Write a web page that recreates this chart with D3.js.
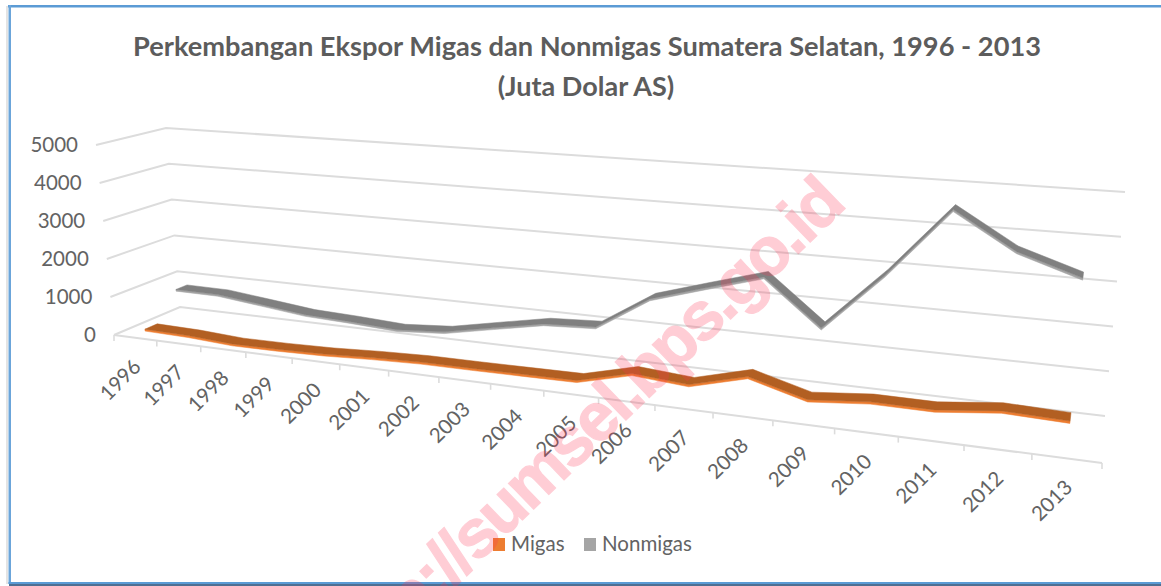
<!DOCTYPE html>
<html><head><meta charset="utf-8">
<script src="https://cdnjs.cloudflare.com/ajax/libs/d3/7.8.5/d3.min.js"></script>
<style>html,body{margin:0;padding:0;background:#fff;overflow:hidden}text{font-family:Lato,"Open Sans",sans-serif}</style>
</head><body><svg id="c" width="1161" height="586"></svg>
<script>
const years=["1996","1997","1998","1999","2000","2001","2002","2003","2004","2005","2006","2007","2008","2009","2010","2011","2012","2013"];
const migas=[110,85,15,25,55,117,160,165,177,191,516,419,767,408,532,528,680,640];
const nonmigas=[800,790,658,522,475,408,497,741,980,1047,1869,2269,2657,1598,2963,4568,3740,3283];
const valueTicks=[0,1000,2000,3000,4000,5000];
const titleLines=["Perkembangan Ekspor Migas dan Nonmigas Sumatera Selatan, 1996 - 2013","(Juta Dolar AS)"];

const svg=d3.select("#c");
// projection of the pseudo-3D box
const K=0.77;
const edge=d3.scaleLinear().domain([0,years.length]).range([0,1]);
const persp=i=>{const t=edge(i);return t*K/(1-(1-K)*t);};
const fx=d3.scaleLinear().domain([0,1]).range([114,1102]);
const fy=d3.scaleLinear().domain([0,1]).range([335,463]);
const bx=d3.scaleLinear().domain([0,1]).range([180,1105]);
const by=d3.scaleLinear().domain([0,1]).range([307,416]);
const fux=d3.scaleLinear().domain([0,1]).range([-18,22]);
const fuy=d3.scaleLinear().domain([0,1]).range([190,240]);
const bux=d3.scaleLinear().domain([0,1]).range([-14,20]);
const buy=d3.scaleLinear().domain([0,1]).range([179,224]);
const val=d3.scaleLinear().domain([0,5000]).range([0,1]);
function P(u,d,v){
  const m=(a,b)=>a+(b-a)*d;
  const h=val(v);
  return [m(fx(u),bx(u))+h*m(fux(u),bux(u)), m(fy(u),by(u))-h*m(fuy(u),buy(u))];
}
const line=d3.line();
const grid="#dcdcdc";
const g=svg.append("g");
// wall gridlines
valueTicks.forEach(v=>{
  g.append("path").attr("d",line([P(0,0,v),P(0,1,v),P(1,1,v)]))
   .attr("fill","none").attr("stroke",grid).attr("stroke-width",2);
});
// front axis + ticks
g.append("path").attr("d",line([P(0,0,0),P(1,0,0)])).attr("fill","none").attr("stroke",grid).attr("stroke-width",2);
d3.range(years.length+1).forEach(i=>{
  const p=P(persp(i),0,0);
  g.append("path").attr("d",line([p,[p[0],p[1]+6]])).attr("stroke",grid).attr("stroke-width",1.6);
});
// ribbons
function ribbon(vals,d,top,lip,dw,lipV){
  const us=vals.map((_,i)=>persp(i+0.5));
  const back=vals.map((v,i)=>P(us[i],d+dw,v));
  const front=vals.map((v,i)=>P(us[i],d-dw,v));
  const low=vals.map((v,i)=>P(us[i],d-dw,v-lipV));
  const end=[P(us[us.length-1],d+dw,vals[vals.length-1]-lipV)];
  svg.append("path").attr("d",line(front.concat(low.slice().reverse()))+"Z").attr("fill",lip).attr("stroke",lip).attr("stroke-width",.5);
  svg.append("path").attr("d",line(back.concat(front.slice().reverse()))+"Z").attr("fill",top).attr("stroke",top).attr("stroke-width",.5);
  svg.append("path").attr("d",line([back[back.length-1],front[front.length-1],low[low.length-1],end[0]])+"Z").attr("fill",top);
}
ribbon(nonmigas,0.75,"#808080","#a5a5a5",0.085,45);
ribbon(migas,0.25,"#b25f22","#ed7d31",0.095,50);
// y labels
valueTicks.forEach(v=>{
  const p=P(0,0,v);
  svg.append("text").attr("x",p[0]-18).attr("y",p[1]+7).attr("text-anchor","end")
    .attr("font-size",20.5).attr("fill","#636363").text(v);
});
// x labels
years.forEach((y,i)=>{
  const p=P(persp(i+0.5),0,0);
  svg.append("text").attr("transform",`translate(${p[0]-15},${p[1]+42}) rotate(-45)`)
    .attr("text-anchor","middle").attr("dy","0.35em").attr("font-size",20.5).attr("fill","#636363").text(y);
});
// title
svg.append("text").attr("x",587).attr("y",56).attr("text-anchor","middle").attr("font-size",27).attr("font-weight",700).attr("fill","#5c5c5c").attr("textLength",908).attr("lengthAdjust","spacingAndGlyphs").text(titleLines[0]);
svg.append("text").attr("x",586).attr("y",96).attr("text-anchor","middle").attr("font-size",27).attr("font-weight",700).attr("fill","#5c5c5c").text(titleLines[1]);
// legend
[["Migas","#ed7d31",493,511],["Nonmigas","#a5a5a5",584,602]].forEach(l=>{
  svg.append("rect").attr("x",l[2]).attr("y",538).attr("width",12).attr("height",13).attr("fill",l[1]);
  svg.append("text").attr("x",l[3]).attr("y",551).attr("font-size",20.5).attr("fill","#636363").text(l[0]);
});
// frame: soft shadow, then top/left/bottom blue edges (no right edge)
svg.append("rect").attr("x",6).attr("y",6).attr("width",2).attr("height",578).attr("fill","#e4e4e4");
svg.append("rect").attr("x",8).attr("y",5).attr("width",1153).attr("height",2.5).attr("fill","#5b9bd5");
svg.append("rect").attr("x",8.5).attr("y",5).attr("width",2.5).attr("height",579).attr("fill","#6ba5da");
svg.append("rect").attr("x",8.5).attr("y",582).attr("width",1152.5).attr("height",2).attr("fill","#5b9bd5");
svg.append("rect").attr("x",9).attr("y",584).attr("width",1152).attr("height",2).attr("fill","#4f6f92");
// watermark
svg.append("g").attr("opacity",.24).append("text").attr("transform","translate(830,190) rotate(-44)").attr("text-anchor","end").attr("dy","0.35em")
 .attr("style","font-family:'Liberation Sans',Arial,sans-serif;letter-spacing:-2.6px").attr("font-size",68).attr("font-weight",700).attr("fill","#ff3355").attr("stroke","#ff3355").attr("stroke-width",1.2).text("http://sumsel.bps.go.id");
</script></body></html>
